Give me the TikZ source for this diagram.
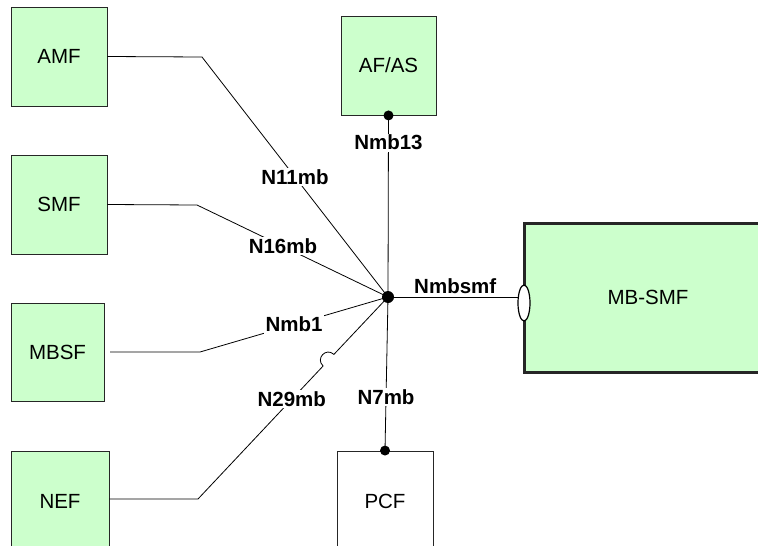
\documentclass[tikz,border=0pt]{standalone}
\usepackage{fontspec}
\setmainfont{Liberation Sans}
\usetikzlibrary{shapes.geometric,calc}
\definecolor{nfgreen}{HTML}{CCFFCC}
\tikzset{
  x=1pt, y=-1pt,
  nfbox/.style={draw=black!85, line width=0.9pt, fill=nfgreen, inner sep=0pt,
    font=\fontsize{20.5}{24}\selectfont},
  wbox/.style={nfbox, fill=white},
  conn/.style={draw=black, line width=0.8pt},
  lbl/.style={fill=white, inner sep=1.5pt, font=\fontsize{20.5}{24}\selectfont\bfseries},
  lblnf/.style={inner sep=1pt, font=\fontsize{20.5}{24}\selectfont\bfseries},
  dotmark/.style={circle, fill=black, inner sep=0pt},
}
\begin{document}
\begin{tikzpicture}
\useasboundingbox (0,0) rectangle (758,546);
% boxes
\node[nfbox, minimum width=96, minimum height=99] (amf) at (59,56.5) {AMF};
\node[nfbox, minimum width=96, minimum height=99] (smf) at (59,204.5) {SMF};
\node[nfbox, minimum width=93, minimum height=98] (mbsf) at (57.5,352) {MBSF};
\node[nfbox, minimum width=98, minimum height=100] (nef) at (60,501) {NEF};
\node[nfbox, minimum width=95, minimum height=99] (afas) at (388.5,65.5) {AF/AS};
\node[wbox, minimum width=96, minimum height=100] (pcf) at (385,501) {PCF};
\node[nfbox, line width=3pt, minimum width=248, minimum height=149] (mbsmf) at (648,297.5) {MB-SMF};

% hub and bend points
\coordinate (hub) at (388,297);
\coordinate (b1) at (202,57);
\coordinate (b2) at (197,205);
\coordinate (b3) at (200,352);
\coordinate (b4) at (198,499);
\coordinate (hopA) at (323.1,366.0);
\coordinate (hopB) at (333.9,354.4);
\coordinate (mbsfout) at (110,352);

% connectors
\draw[conn] (amf.east) -- (b1) -- node[lbl, pos=0.5] {N11mb} (hub);
\draw[conn] (smf.east) -- (b2) -- node[lbl, pos=0.45] {N16mb} (hub);
\draw[conn] (mbsfout) -- (b3) -- node[lbl, pos=0.5] {Nmb1} (hub);
\draw[conn] (nef.east |- b4) -- (b4) -- node[lbl, pos=0.75] {N29mb} (hopA)
   .. controls (315.2,358.6) and (326.0,347.0) .. (hopB) -- (hub);
\draw[conn] (afas.south) -- node[lbl, pos=0.15] {Nmb13} (hub);
\draw[conn] (hub) -- node[lbl, pos=0.65] {N7mb} (pcf.north);
\draw[conn] (hub) -- node[lblnf, pos=0.5, above=2pt] {Nmbsmf} (hub -| mbsmf.west);

% port ellipse and dots
\node[ellipse, draw=black, line width=1.2pt, fill=white, minimum width=12, minimum height=36, inner sep=0pt] (port) at (524,303) {};
\node[dotmark, minimum size=12] (hubdot) at (hub) {};
\node[dotmark, minimum size=10] (afasdot) at (afas.south) {};
\node[dotmark, minimum size=10] (pcfdot) at (pcf.north) {};
\end{tikzpicture}
\end{document}
